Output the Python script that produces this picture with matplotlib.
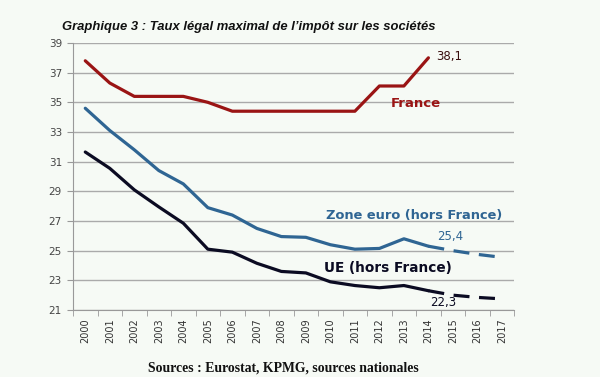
import numpy as np
import matplotlib
matplotlib.use('Agg')
import matplotlib.pyplot as plt


years = list(range(2000, 2018))

france = [37.8, 36.3, 35.4, 35.4, 35.4, 35.0, 34.4, 34.4, 34.4,
          34.4, 34.4, 34.4, 36.1, 36.1, 38.0]

zone_euro      = [34.6, 33.1, 31.8, 30.4, 29.5, 27.9, 27.4, 26.5, 25.95,
                  25.9, 25.4, 25.1, 25.15, 25.8, 25.3]
zone_euro_proj = [25.3, 25.0, 24.75, 24.55]          # 2014 -> 2017

ue      = [31.65, 30.55, 29.1, 27.95, 26.85, 25.1, 24.9, 24.15, 23.6,
           23.5, 22.9, 22.65, 22.5, 22.65, 22.3]
ue_proj = [22.3, 22.0, 21.85, 21.75]                  # 2014 -> 2017

y_ticks = [21, 23, 25, 27, 29, 31, 33, 35, 37, 39]

bg      = '#F6FAF5'
c_fr    = '#9A1414'
c_ze    = '#2F6593'
c_ue    = '#0B0B22'


fig = plt.figure(figsize = (6, 3.77), dpi = 100, facecolor = bg)
ax  = fig.add_axes([0.1217, 0.1777, 0.7353, 0.7083], facecolor = bg)

x      = np.arange(len(years))
x_hist = x[: len(france)]
x_proj = x[len(france) - 1 :]

ax.plot(x_hist, france,    color = c_fr, lw = 2.3, solid_capstyle = 'round', zorder = 3)
ax.plot(x_hist, zone_euro, color = c_ze, lw = 2.3, solid_capstyle = 'round', zorder = 3)
ax.plot(x_hist, ue,        color = c_ue, lw = 2.3, solid_capstyle = 'round', zorder = 3)

ax.plot(x_proj, zone_euro_proj, color = c_ze, lw = 2.3, dashes = (5, 3), zorder = 3)
ax.plot(x_proj, ue_proj,        color = c_ue, lw = 2.3, dashes = (5, 3), zorder = 3)

ax.set_xlim(-0.5, len(years) - 0.5)
ax.set_ylim(21, 39)

ax.set_yticks(y_ticks)
ax.set_yticklabels([str(v) for v in y_ticks], fontsize = 7.5, color = '#444444')

ax.set_xticks(x)
ax.set_xticklabels([str(v) for v in years], rotation = 90, fontsize = 7, color = '#333333')
ax.set_xticks(np.arange(-0.5, len(years)), minor = True)
ax.tick_params(axis = 'x', which = 'major', length = 0, pad = 6)
ax.tick_params(axis = 'x', which = 'minor', length = 4, color = '#999999')
ax.tick_params(axis = 'y', length = 4, color = '#999999', pad = 4)

ax.grid(axis = 'y', color = '#AAAAAA', lw = 1.0)
ax.set_axisbelow(True)

for s in ['top', 'right']:
    ax.spines[s].set_visible(False)
for s in ['left', 'bottom']:
    ax.spines[s].set_color('#999999')

# annotations
ax.text(14.3, 38.1, '38,1', fontsize = 8.5, color = '#3A1010', va = 'center', ha = 'left')
ax.text(13.5, 34.9, 'France', fontsize = 9.5, fontweight = 'bold', color = c_fr, ha = 'center', va = 'center')
ax.text(13.4, 27.4, 'Zone euro (hors France)', fontsize = 9.4, fontweight = 'bold', color = c_ze, ha = 'center', va = 'center')
ax.text(14.9, 25.95, '25,4', fontsize = 8.5, color = c_ze, ha = 'center', va = 'center')
ax.text(12.35, 23.85, 'UE (hors France)', fontsize = 9.8, fontweight = 'bold', color = c_ue, ha = 'center', va = 'center')
ax.text(14.6, 21.5, '22,3', fontsize = 8.5, color = c_ue, ha = 'center', va = 'center')

fig.text(0.103, 0.928, 'Graphique 3 : Taux légal maximal de l\u2019impôt sur les sociétés',
         fontsize = 9.4, fontweight = 'bold', fontstyle = 'italic', color = '#111111', ha = 'left', va = 'center',
         family = 'Liberation Sans')

fig.text(0.473, 0.024, 'Sources : Eurostat, KPMG, sources nationales',
         fontsize = 9.9, fontweight = 'bold', color = '#111111', ha = 'center', va = 'center',
         family = 'Liberation Serif')

plt.savefig('out.png', dpi = 100, facecolor = bg)
